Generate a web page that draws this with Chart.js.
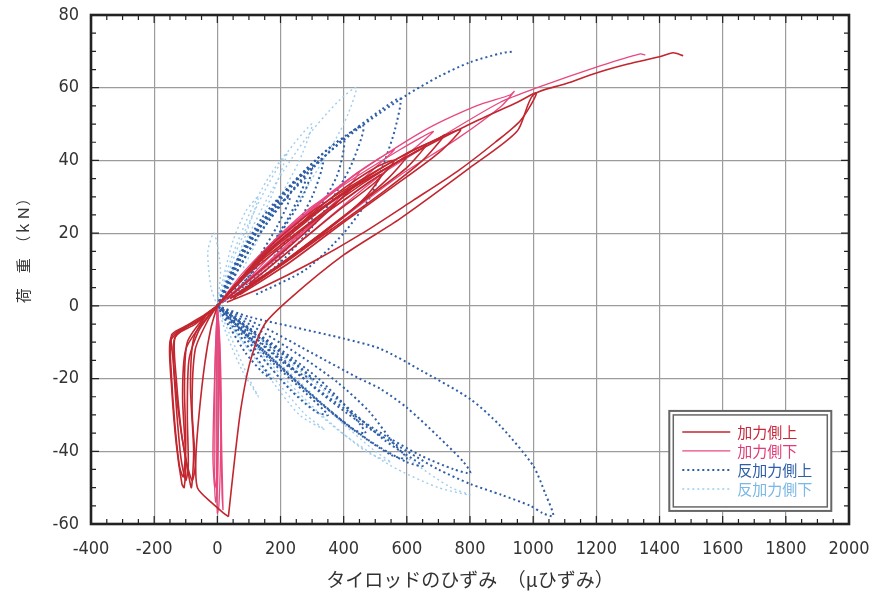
<!DOCTYPE html>
<html>
<head>
<meta charset="utf-8">
<script src="https://cdn.jsdelivr.net/npm/chart.js@4.4.1/dist/chart.umd.min.js"></script>
<style>
  html, body { margin: 0; padding: 0; background: #fff; }
  #chart { display: block; }
</style>
</head>
<body>
<canvas id="chart" width="877" height="595"></canvas>
<script>
// x: タイロッドのひずみ (μ), y: 荷重 (kN) — loops
const xTicks = [-400, -200, 0, 200, 400, 600, 800, 1000, 1200, 1400, 1600, 1800, 2000];
const yTicks = [-60, -40, -20, 0, 20, 40, 60, 80];

const seriesNames = ['加力側上', '加力側下', '反加力側上', '反加力側下'];

// 加力側上 (dark red)
const redLoop1 = [[0,0],[100,9],[200,16],[300,23],[400,29],[480,34],[520,36],[470,30],[380,23],[260,15],[140,8],[40,2]];
const redLoop2 = [[0,0],[100,10],[200,18],[320,26],[440,33],[560,39],[600,41],[540,35],[420,26],[300,18],[160,9],[40,2]];
const redLoop3 = [[0,0],[120,11],[250,20],[400,30],[520,37],[640,43],[660,44],[600,38],[480,30],[330,20],[180,10],[50,2]];
const redLoop4 = [[0,0],[150,14],[300,25],[450,34],[600,42],[700,46],[720,47],[650,40],[520,31],[360,21],[200,11],[60,3]];
const redLoop5 = [[0,0],[150,15],[300,26],[500,37],[650,44],[770,48.5],[700,42],[560,33],[400,23],[230,12],[70,3]];
const redLoop6 = [[0,0],[200,18],[400,31],[600,41],[800,50],[950,56],[1010,58.5],[960,51],[880,45],[760,37],[620,29],[460,20],[300,12],[140,5],[30,1]];
const redLoop7 = [[0,0],[80,8],[180,16],[280,23],[380,30],[420,32],[350,26],[250,18],[140,10],[30,2]];
const redLoop8 = [[0,0],[120,12],[240,21],[380,31],[500,38],[560,40],[500,34],[380,26],[240,16],[100,6]];
const redNeg1 = [[0,0],[-50,-3],[-110,-6],[-145,-8],[-140,-15],[-128,-30],[-115,-42],[-100,-48],[-92,-44],[-95,-30],[-90,-15],[-60,-7],[-20,-2],[0,0]];
const redNeg2 = [[0,0],[-60,-4],[-120,-7],[-150,-10],[-145,-22],[-130,-38],[-112,-49],[-105,-50],[-100,-42],[-110,-25],[-100,-12],[-50,-5],[0,0]];
const redNeg3 = [[0,0],[-70,-5],[-130,-8],[-140,-12],[-125,-28],[-100,-42],[-80,-48],[-70,-44],[-80,-28],[-70,-12],[-30,-4],[0,0]];
const redNeg5 = [[0,0],[-60,-4],[-125,-7],[-148,-9],[-146,-18],[-135,-32],[-120,-44],[-108,-47],[-100,-38],[-104,-22],[-95,-10],[-40,-3],[0,0]];
const redNeg6 = [[0,0],[-40,-3],[-100,-6],[-135,-9],[-130,-20],[-112,-36],[-92,-46],[-82,-50],[-75,-40],[-85,-22],[-75,-9],[-30,-2],[0,0]];
const redNeg4 = [[0,0],[-20,-6],[-40,-16],[-58,-30],[-68,-42],[-63,-50],[-20,-54],[20,-57],[35,-58]];
const redFinal = [[35,-58],[55,-42],[75,-28],[105,-15],[150,-5],[230,2],[400,14],[579,24],[800,38],[949,48],[1000,58],[1100,61],[1210,64.3],[1300,66.5],[1400,68.5],[1443,69.6],[1475,68.8]];

// 加力側下 (pink)
const pinkLoop1 = [[0,0],[100,10],[220,20],[350,30],[450,37],[400,31],[280,21],[150,11],[40,3],[0,0]];
const pinkLoop2 = [[0,0],[150,15],[300,27],[450,37],[560,43],[500,38],[360,27],[200,14],[60,4]];
const pinkLoop3 = [[0,0],[180,18],[380,32],[579,43],[684,48],[620,43],[460,32],[280,19],[100,6]];
const pinkLoop4 = [[0,0],[200,19],[420,35],[650,48],[820,55],[927,58],[940,59],[900,55],[760,46],[580,36],[380,23],[180,10],[40,2]];
const pinkLoop5 = [[0,0],[80,9],[180,18],[280,26],[330,29],[270,23],[170,14],[60,4],[0,0]];
const pinkFinal = [[60,4],[250,19],[480,34],[700,46],[896,56],[1013,60],[1212,66],[1339,69.3],[1355,69]];
const pinkNeg1 = [[0,0],[-4,-8],[-8,-20],[-10,-35],[-9,-48],[-5,-54],[0,-50],[3,-38],[4,-22],[3,-8],[0,0]];
const pinkNeg2 = [[0,0],[-2,-10],[-4,-28],[-3,-45],[0,-57],[5,-55],[10,-42],[12,-25],[8,-10],[0,0]];
const pinkNeg3 = [[0,0],[-6,-12],[-12,-30],[-14,-42],[-8,-50],[0,-45],[-2,-30],[-1,-15],[0,0]];
const pinkNeg4 = [[0,0],[4,-10],[8,-25],[12,-40],[15,-52],[18,-56],[14,-40],[10,-20],[5,-6],[0,0]];

// 反加力側上 (blue dotted)
const blueLoop1 = [[0,0],[50,10],[120,20],[200,28],[280,35],[230,25],[150,14],[60,4],[0,0]];
const blueLoop2 = [[0,0],[80,14],[180,27],[280,37],[335,40],[300,30],[220,18],[120,8],[0,0]];
const blueLoop3 = [[0,0],[100,17],[220,32],[350,43],[462,49.5],[420,38],[330,25],[200,12],[50,2]];
const blueLoop4 = [[0,0],[120,18],[250,33],[400,46],[520,54],[579,57],[563,48.7],[532,40.4],[484,30],[400,20],[280,10],[120,3]];
const blueLoop5 = [[0,0],[150,22],[300,38],[450,49],[600,58],[700,63],[800,67],[900,69.5],[940,70]];
const blueLoop6 = [[0,0],[60,12],[140,24],[230,33],[300,38],[270,30],[200,20],[110,9],[20,1]];
const blueLoop7 = [[0,0],[90,16],[200,30],[310,40],[400,46],[380,36],[300,24],[180,12],[60,3]];
const blueLoop8 = [[0,0],[40,9],[100,18],[170,26],[230,30],[190,22],[120,12],[40,3]];
const blueNeg1 = [[0,0],[40,-6],[90,-13],[140,-18],[170,-20],[130,-15],[70,-8],[0,0]];
const blueNeg2 = [[0,0],[80,-5],[160,-10],[250,-16],[300,-20],[250,-18],[150,-11],[50,-3]];
const blueNeg3 = [[0,0],[100,-6],[200,-12],[320,-20],[400,-27],[470,-35],[430,-34],[330,-27],[200,-17],[80,-7],[0,0]];
const blueNeg4 = [[0,0],[120,-6],[250,-13],[380,-21],[480,-29],[560,-38],[600,-42],[550,-41],[430,-34],[280,-23],[130,-11],[20,-2]];
const blueNeg5 = [[0,0],[150,-6],[300,-13],[450,-20],[516,-22.8],[600,-28],[700,-36],[780,-43],[801,-46],[750,-45],[640,-41],[500,-34],[350,-25],[200,-15],[80,-6],[0,0]];
const blueNeg6 = [[0,0],[100,-3],[250,-6],[400,-9],[516,-11.8],[650,-18],[800,-25.6],[896,-33],[1000,-44],[1040,-52],[1064,-57.8],[1030,-57],[991,-55],[900,-52],[801,-49],[700,-45],[601,-40],[450,-32],[300,-22],[150,-10],[50,-3],[0,0]];
const blueNeg7 = [[0,0],[90,-8],[180,-16],[280,-24],[350,-30],[310,-29],[230,-23],[130,-13],[30,-3]];
const blueNeg8 = [[0,0],[130,-8],[260,-17],[400,-27],[530,-37],[650,-44],[600,-43],[480,-37],[330,-27],[180,-15],[50,-4]];

// 反加力側下 (light blue dotted)
const lightLoop1 = [[0,0],[20,8],[50,18],[90,26],[130,30],[100,22],[50,10],[0,0]];
const lightLoop2 = [[0,0],[40,12],[100,25],[160,35],[220,42],[180,32],[110,18],[40,5]];
const lightLoop3 = [[0,0],[60,15],[140,30],[220,42],[300,50],[260,40],[180,27],[80,10]];
const lightLoop4 = [[0,0],[80,16],[180,33],[280,46],[380,56],[440,60],[400,50],[300,35],[180,18],[60,4]];
const lightNeg1 = [[0,0],[30,-8],[80,-18],[130,-25],[100,-20],[40,-8],[0,0]];
const lightNeg2 = [[0,0],[80,-10],[180,-20],[280,-30],[340,-34],[260,-30],[150,-18],[40,-5]];
const lightNeg3 = [[0,0],[120,-10],[250,-20],[380,-31],[500,-40],[550,-43],[470,-40],[330,-30],[180,-17],[50,-4]];
const lightNeg4 = [[0,0],[150,-10],[320,-22],[480,-33],[620,-43],[740,-50],[800,-52],[700,-50],[550,-44],[380,-34],[200,-20],[60,-5]];
const lightNear = [[0,0],[-20,5],[-30,15],[-10,20],[10,10],[0,0]];

const seriesCurves = [
  [redLoop1, redLoop2, redLoop3, redLoop4, redLoop5, redLoop6, redLoop7, redLoop8, redNeg1, redNeg2, redNeg3, redNeg5, redNeg6, redNeg4, redFinal],
  [pinkLoop1, pinkLoop2, pinkLoop3, pinkLoop4, pinkLoop5, pinkFinal, pinkNeg1, pinkNeg2, pinkNeg3, pinkNeg4],
  [blueLoop1, blueLoop2, blueLoop3, blueLoop4, blueLoop5, blueLoop6, blueLoop7, blueLoop8, blueNeg1, blueNeg2, blueNeg3, blueNeg4, blueNeg5, blueNeg6, blueNeg7, blueNeg8],
  [lightLoop1, lightLoop2, lightLoop3, lightLoop4, lightNeg1, lightNeg2, lightNeg3, lightNeg4, lightNear]
];

const seriesStyle = [
  { color: '#c2262f', width: 1.6, dash: [], order: 1 },
  { color: '#e8487f', width: 1.3, dash: [], order: 2 },
  { color: '#2f5ea6', width: 2, dash: [2, 3], order: 3 },
  { color: '#9fcdee', width: 1.4, dash: [2, 3], order: 4 }
];
const legendTextColors = ['#c8283a', '#e03c78', '#2e5ea8', '#7ab8e6'];

const datasets = [];
seriesCurves.forEach((curves, s) => {
  const st = seriesStyle[s];
  curves.forEach((c) => {
    datasets.push({
      label: seriesNames[s],
      data: c.map(p => ({ x: p[0], y: p[1] })),
      showLine: true,
      borderColor: st.color,
      borderWidth: st.width,
      borderDash: st.dash,
      pointRadius: 0,
      tension: 0.25,
      order: st.order
    });
  });
});

const fontNum = "'Liberation Sans Narrow', 'DejaVu Sans Condensed', 'Liberation Sans', sans-serif";
const fontJp = "'Noto Sans CJK JP', sans-serif";

const framePlugin = {
  id: 'frame',
  afterDraw(chart) {
    const { ctx, chartArea: a, scales: { x, y } } = chart;
    ctx.save();
    ctx.strokeStyle = '#222';
    ctx.lineWidth = 1.2;
    ctx.beginPath();
    for (let v = -400; v <= 2000; v += 50) {
      const px = x.getPixelForValue(v);
      const len = v % 200 === 0 ? 8 : 5;
      ctx.moveTo(px, a.bottom); ctx.lineTo(px, a.bottom - len);
      ctx.moveTo(px, a.top); ctx.lineTo(px, a.top + len);
    }
    for (let v = -60; v <= 80; v += 5) {
      const py = y.getPixelForValue(v);
      const len = v % 20 === 0 ? 8 : 5;
      ctx.moveTo(a.left, py); ctx.lineTo(a.left + len, py);
      ctx.moveTo(a.right, py); ctx.lineTo(a.right - len, py);
    }
    ctx.stroke();
    ctx.lineWidth = 2.6;
    ctx.strokeRect(a.left, a.top, a.right - a.left, a.bottom - a.top);

    // legend box, lower right inside the plot
    const bx = x.getPixelForValue(1431), by = y.getPixelForValue(-28.9);
    const bw = 162, bh = 100;
    ctx.fillStyle = '#fff';
    ctx.fillRect(bx, by, bw, bh);
    ctx.strokeStyle = '#666';
    ctx.lineWidth = 2;
    ctx.strokeRect(bx, by, bw, bh);
    ctx.lineWidth = 1.5;
    ctx.strokeRect(bx + 4, by + 4, bw - 8, bh - 8);
    ctx.font = '15px ' + fontJp;
    ctx.textBaseline = 'middle';
    for (let s = 0; s < 4; s++) {
      const st = seriesStyle[s];
      const ry = by + 21 + s * 19;
      ctx.strokeStyle = st.color;
      ctx.lineWidth = st.width;
      ctx.setLineDash(st.dash);
      ctx.beginPath();
      ctx.moveTo(bx + 13, ry); ctx.lineTo(bx + 61, ry);
      ctx.stroke();
      ctx.setLineDash([]);
      ctx.fillStyle = legendTextColors[s];
      ctx.fillText(seriesNames[s], bx + 68, ry);
    }
    ctx.restore();
  }
};

new Chart(document.getElementById('chart'), {
  type: 'scatter',
  data: { datasets: datasets },
  options: {
    responsive: false,
    animation: false,
    layout: { padding: { top: 15, right: 28, left: 0, bottom: 0 } },
    plugins: { legend: { display: false }, tooltip: { enabled: false } },
    scales: {
      x: {
        type: 'linear', min: -400, max: 2000,
        afterBuildTicks: (sc) => { sc.ticks = xTicks.map(v => ({ value: v })); },
        afterFit: (sc) => { sc.height = 71; sc.paddingLeft = 0; sc.paddingRight = 0; },
        grid: { color: '#9c9c9c', lineWidth: 1.2, drawTicks: false },
        border: { display: false },
        ticks: { color: '#333', padding: 15, maxRotation: 0, callback: (v) => String(v), font: { family: fontNum, size: 18 } },
        title: { display: true, text: 'タイロッドのひずみ　（μひずみ）', color: '#333', padding: { top: 0, bottom: 4 }, font: { family: fontJp, size: 19 } }
      },
      y: {
        type: 'linear', min: -60, max: 80,
        afterBuildTicks: (sc) => { sc.ticks = yTicks.map(v => ({ value: v })); },
        afterFit: (sc) => { sc.width = 91; sc.paddingTop = 0; sc.paddingBottom = 0; },
        grid: { color: '#9c9c9c', lineWidth: 1.2, drawTicks: false },
        border: { display: false },
        ticks: { color: '#333', padding: 12, callback: (v) => String(v), font: { family: fontNum, size: 18 } },
        title: { display: true, text: '　　　荷　重　（ｋＮ）', color: '#333', padding: { top: 14, bottom: 0 }, font: { family: fontJp, size: 15 } }
      }
    }
  },
  plugins: [framePlugin]
});
</script>
</body>
</html>
